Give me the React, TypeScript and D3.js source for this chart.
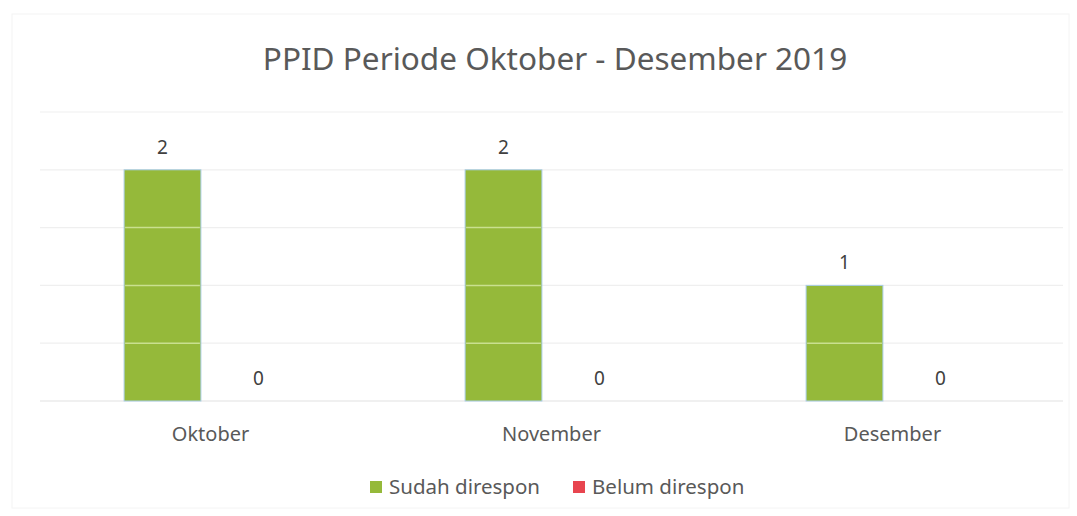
import { useEffect, useRef } from "react";
import * as d3 from "d3";

// chart data
const months = ["Oktober", "November", "Desember"];
const seriesNames = ["Sudah direspon", "Belum direspon"];
const sudahDirespon = [2, 2, 1];
const belumDirespon = [0, 0, 0];
const yTicks = [0, 0.5, 1, 1.5, 2, 2.5];

const colors = ["#95b93a", "#e8454f"];
const font = "'Noto Sans', 'Open Sans', sans-serif";

const App = () => {
  const ref = useRef<SVGSVGElement | null>(null);

  useEffect(() => {
    const width = 1077;
    const height = 516;
    const margin = { top: 112, right: 14, bottom: 115, left: 40 };

    const svg = d3.select(ref.current);
    svg.selectAll("*").remove();

    svg.append("rect").attr("width", width).attr("height", height).attr("fill", "#ffffff");

    // faint chart frame
    svg
      .append("rect")
      .attr("x", 12)
      .attr("y", 14)
      .attr("width", width - 20)
      .attr("height", height - 22)
      .attr("fill", "none")
      .attr("stroke", "#f4f4f4");

    // Title
    svg
      .append("text")
      .attr("x", 555)
      .attr("y", 70)
      .attr("text-anchor", "middle")
      .attr("font-family", font)
      .attr("font-size", 31.5)
      .attr("fill", "#595959")
      .text("PPID Periode Oktober - Desember 2019");

    const x0 = d3
      .scaleBand()
      .domain(months)
      .range([margin.left, width - margin.right])
      .padding(0);

    const x1 = d3
      .scaleBand()
      .domain(seriesNames)
      .range([0, x0.bandwidth()])
      .paddingInner(0.2)
      .paddingOuter(0.876);

    const y = d3
      .scaleLinear()
      .domain([0, 2.5])
      .range([height - margin.bottom, margin.top]);

    // gridlines
    svg
      .append("g")
      .selectAll("line")
      .data(yTicks)
      .enter()
      .append("line")
      .attr("x1", margin.left)
      .attr("x2", width - margin.right)
      .attr("y1", (d) => y(d))
      .attr("y2", (d) => y(d))
      .attr("stroke", (d) => (d === 0 ? "#e2e2e2" : "#efefef"))
      .attr("stroke-width", 1.2);

    const rows = months.map((m, i) => ({
      month: m,
      values: [sudahDirespon[i], belumDirespon[i]],
    }));

    const groups = svg
      .append("g")
      .selectAll("g")
      .data(rows)
      .enter()
      .append("g")
      .attr("transform", (d) => `translate(${x0(d.month)},0)`);

    groups
      .selectAll("rect")
      .data((d) => d.values.map((v, k) => ({ v, k })))
      .enter()
      .append("rect")
      .attr("x", (d) => x1(seriesNames[d.k])!)
      .attr("y", (d) => y(d.v))
      .attr("width", x1.bandwidth())
      .attr("height", (d) => y(0) - y(d.v))
      .attr("fill", (d) => colors[d.k])
      .attr("stroke", (d) => (d.v > 0 ? "#a9cde6" : "none"))
      .attr("stroke-width", 1);

    // light gridlines showing through the bars
    groups
      .selectAll("line")
      .data((d) => yTicks.filter((t) => t > 0 && t < d.values[0]))
      .enter()
      .append("line")
      .attr("x1", x1(seriesNames[0])! + 1)
      .attr("x2", x1(seriesNames[0])! + x1.bandwidth() - 1)
      .attr("y1", (t) => y(t))
      .attr("y2", (t) => y(t))
      .attr("stroke", "#c9e08f")
      .attr("stroke-width", 1.5);

    // value labels
    groups
      .selectAll("text")
      .data((d) => d.values.map((v, k) => ({ v, k })))
      .enter()
      .append("text")
      .attr("x", (d) => x1(seriesNames[d.k])! + x1.bandwidth() / 2)
      .attr("y", (d) => y(d.v) - 16)
      .attr("text-anchor", "middle")
      .attr("font-family", font)
      .attr("font-size", 19)
      .attr("fill", "#404040")
      .text((d) => d.v);

    // category labels
    svg
      .append("g")
      .selectAll("text")
      .data(months)
      .enter()
      .append("text")
      .attr("x", (d) => x0(d)! + x0.bandwidth() / 2)
      .attr("y", 441)
      .attr("text-anchor", "middle")
      .attr("font-family", font)
      .attr("font-size", 20)
      .attr("fill", "#595959")
      .text((d) => d);

    // legend
    const legendX = [370, 573];
    const legend = svg
      .append("g")
      .selectAll("g")
      .data(seriesNames)
      .enter()
      .append("g")
      .attr("transform", (d, i) => `translate(${legendX[i]},481)`);

    legend
      .append("rect")
      .attr("width", 12)
      .attr("height", 12)
      .attr("fill", (d, i) => colors[i]);

    legend
      .append("text")
      .attr("x", 19)
      .attr("y", 13)
      .attr("font-family", font)
      .attr("font-size", 20.5)
      .attr("fill", "#595959")
      .text((d) => d);
  }, []);

  return (
    <svg
      ref={ref}
      width={1077}
      height={516}
      style={{ position: "absolute", left: 0, top: 0 }}
    />
  );
};

export default App;
